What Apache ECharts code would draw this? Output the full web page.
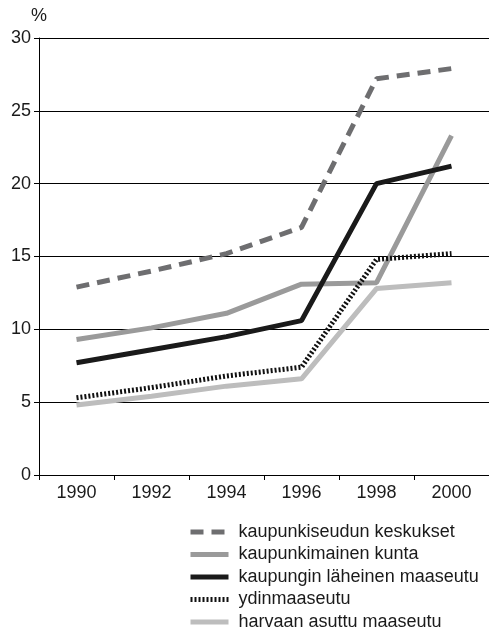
<!DOCTYPE html>
<html>
<head>
<meta charset="utf-8">
<script src="https://cdn.jsdelivr.net/npm/echarts@6/dist/echarts.min.js"></script>
<style>
  html, body { margin: 0; padding: 0; background: #fff; }
  #chart { width: 489px; height: 636px; }
</style>
</head>
<body>
<div id="chart"></div>
<script>
// vuodet
const years = ['1990', '1992', '1994', '1996', '1998', '2000']

// sarjat (%)
const keskukset = [12.9, 14.0, 15.2, 17.0, 27.2, 27.9]
const kaupunkimainen = [9.3, 10.1, 11.1, 13.1, 13.2, 23.3]
const laheinen = [7.7, 8.6, 9.5, 10.6, 20.0, 21.2]
const ydin = [5.3, 6.0, 6.8, 7.4, 14.8, 15.2]
const harvaan = [4.8, 5.4, 6.1, 6.6, 12.8, 13.2]

const names = [
  'kaupunkiseudun keskukset',
  'kaupunkimainen kunta',
  'kaupungin läheinen maaseutu',
  'ydinmaaseutu',
  'harvaan asuttu maaseutu'
]

const chart = echarts.init(document.getElementById('chart'))

function line(name, data, color, type) {
  return {
    name: name,
    type: 'line',
    data: data,
    symbol: 'none',
    lineStyle: { color: color, width: 5, type: type, cap: 'butt' },
    itemStyle: { color: color }
  }
}

const option = {
  animation: false,
  textStyle: { fontFamily: 'Liberation Sans, Arial, sans-serif' },
  grid: { left: 39, right: 0, top: 38, bottom: 161 },
  xAxis: {
    type: 'category',
    data: years,
    boundaryGap: true,
    axisLine: { lineStyle: { color: '#000', width: 1 } },
    axisTick: { show: true, interval: 0, length: 5, lineStyle: { color: '#000' } },
    axisLabel: { color: '#1a1a1a', fontSize: 18, margin: 9 }
  },
  yAxis: {
    type: 'value',
    min: 0,
    max: 30,
    interval: 5,
    name: '%',
    nameLocation: 'end',
    nameGap: 13,
    nameTextStyle: { color: '#1a1a1a', fontSize: 18, align: 'center', padding: [0, 0, 0, 0] },
    axisLine: { show: true, lineStyle: { color: '#000', width: 1 } },
    axisTick: { show: true, length: 5, lineStyle: { color: '#000' } },
    axisLabel: { color: '#1a1a1a', fontSize: 18, margin: 8 },
    splitLine: { lineStyle: { color: '#000', width: 1 } }
  },
  legend: {
    orient: 'vertical',
    left: 188,
    top: 523,
    padding: 0,
    height: 113,
    itemWidth: 38,
    itemHeight: 10,
    itemGap: 4.5,
    textStyle: { color: '#1a1a1a', fontSize: 18, lineHeight: 18, padding: [0, 0, 0, 5] },
    itemStyle: { opacity: 0 },
    lineStyle: { width: 5 },
    data: names
  },
  series: [
    line(names[0], keskukset, '#6e6e70', [13, 8]),
    line(names[1], kaupunkimainen, '#9a9a9a', 'solid'),
    line(names[2], laheinen, '#1a1a1a', 'solid'),
    line(names[3], ydin, '#111', [2, 2]),
    line(names[4], harvaan, '#bdbdbd', 'solid')
  ]
}

chart.setOption(option)
</script>
</body>
</html>
